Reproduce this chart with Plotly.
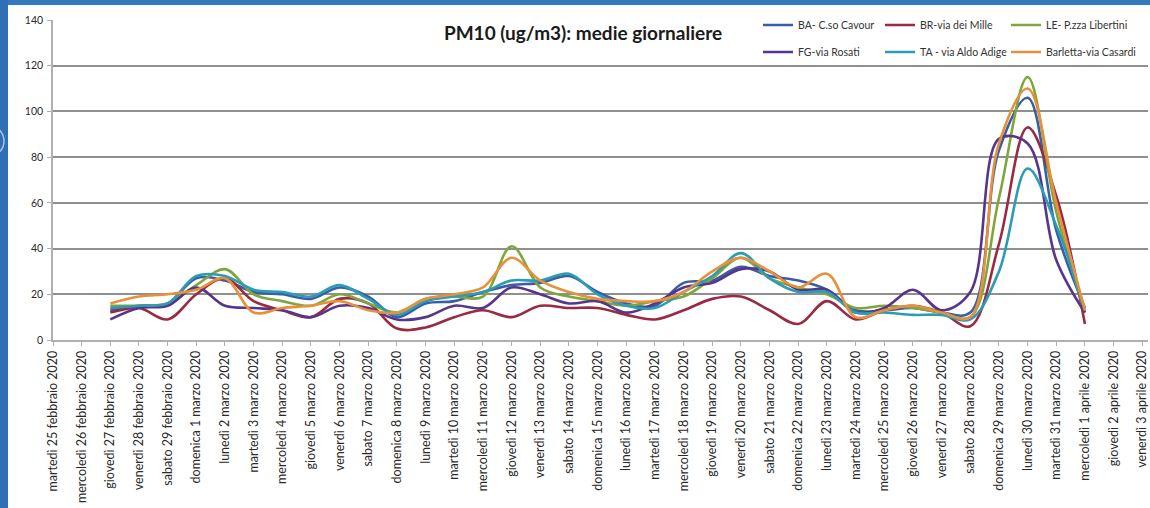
import plotly.graph_objects as go

dates = [
    "martedì 25 febbraio 2020", "mercoledì 26 febbraio 2020", "giovedì 27 febbraio 2020",
    "venerdì 28 febbraio 2020", "sabato 29 febbraio 2020", "domenica 1 marzo 2020",
    "lunedì 2 marzo 2020", "martedì 3 marzo 2020", "mercoledì 4 marzo 2020",
    "giovedì 5 marzo 2020", "venerdì 6 marzo 2020", "sabato 7 marzo 2020",
    "domenica 8 marzo 2020", "lunedì 9 marzo 2020", "martedì 10 marzo 2020",
    "mercoledì 11 marzo 2020", "giovedì 12 marzo 2020", "venerdì 13 marzo 2020",
    "sabato 14 marzo 2020", "domenica 15 marzo 2020", "lunedì 16 marzo 2020",
    "martedì 17 marzo 2020", "mercoledì 18 marzo 2020", "giovedì 19 marzo 2020",
    "venerdì 20 marzo 2020", "sabato 21 marzo 2020", "domenica 22 marzo 2020",
    "lunedì 23 marzo 2020", "martedì 24 marzo 2020", "mercoledì 25 marzo 2020",
    "giovedì 26 marzo 2020", "venerdì 27 marzo 2020", "sabato 28 marzo 2020",
    "domenica 29 marzo 2020", "lunedì 30 marzo 2020", "martedì 31 marzo 2020",
    "mercoledì 1 aprile 2020", "giovedì 2 aprile 2020", "venerdì 3 aprile 2020",
]

# values from 27 febbraio to 1 aprile (no data on the first two and last two days)
ba_cavour = [13, 15, 16, 27, 26, 21, 20, 18, 23, 19, 10, 16, 17, 21, 24, 25, 28, 21, 16, 15,
             25, 26, 32, 28, 26, 22, 13, 13, 14, 12, 12, 83, 106, 48, 14]
br_mille = [12, 14, 9, 20, 27, 17, 13, 10, 18, 16, 5, 5.5, 10, 13, 10, 15, 14, 14, 11, 9,
            13, 18, 19, 13, 7, 17, 9, 13, 15, 12, 6, 42, 93, 63, 7]
le_libertini = [15, 15, 16, 24, 31, 20, 17, 15, 20, 16, 12, 18, 19, 19, 41, 23, 19, 17, 15, 17,
                19, 27, 36, 27, 23, 20, 14, 15, 14, 12, 10, 62, 115, 56, 12]
fg_rosati = [9, 14, 15, 23, 15, 14, 13, 10, 15, 14, 9, 10, 15, 14, 23, 20, 16, 17, 12, 16,
             23, 25, 31, 30, 22, 22, 12, 14, 22, 13, 21, 88, 86, 35, 12]
ta_adige = [14, 15, 16, 28, 28, 22, 21, 19, 24, 18, 11, 17, 19, 21, 26, 26, 29, 20, 15, 14,
            21, 28, 38, 27, 21, 21, 12, 12, 11, 11, 9, 30, 75, 50, 13]
barletta = [16, 19, 20, 22, 27, 12, 14, 15, 17, 13, 12, 18, 20, 23, 36, 26, 21, 18, 17, 17,
            21, 30, 36, 30, 23, 29, 10, 13, 15, 12, 10, 86, 110, 60, 13]

names = ["BA- C.so Cavour", "BR-via dei Mille", "LE- P.zza Libertini",
         "FG-via Rosati", "TA - via Aldo Adige", "Barletta-via Casardi"]
series = [ba_cavour, br_mille, le_libertini, fg_rosati, ta_adige, barletta]
colors = ["#3a5ea6", "#9a2a42", "#7fa63c", "#56358a", "#2b9cb6", "#e8903a"]

y_ticks = [0, 20, 40, 60, 80, 100, 120, 140]

W, H = 1150, 508
ML, MR, MT, MB = 53, 2, 20, 168
PW, PH = W - ML - MR, H - MT - MB


def px(x):
    return (x - ML) / PW


def py(y):
    return (H - MB - y) / PH


fig = go.Figure()

# legend positions: (legend-left px, row centre px)
leg_pos = [(758, 25), (880, 25), (1006, 25), (758, 52), (880, 52), (1006, 52)]

for i, (name, vals, col) in enumerate(zip(names, series, colors)):
    y = [None, None] + vals + [None, None]
    lg = "legend" if i == 0 else f"legend{i+1}"
    fig.add_trace(go.Scatter(
        x=dates, y=y, name=name, mode="lines",
        line=dict(color=col, width=2.6, shape="spline", smoothing=1.0),
        legend=lg, connectgaps=False,
    ))

legend_common = dict(
    orientation="v", bgcolor="rgba(0,0,0,0)", borderwidth=0,
    font=dict(family="Lato, Liberation Sans, sans-serif", size=10.5, color="#333333"),
    xanchor="left", yanchor="middle", xref="paper", yref="paper",
    itemwidth=30, tracegroupgap=0,
)
legends = {}
for i, (lx, ly) in enumerate(leg_pos):
    key = "legend" if i == 0 else f"legend{i+1}"
    legends[key] = dict(legend_common, x=px(lx), y=py(ly))

shapes = [
    # white boxes behind title and legend (hide gridlines)
    dict(type="rect", xref="paper", yref="paper", x0=px(433), x1=px(731), y0=py(45), y1=py(8),
         fillcolor="white", line=dict(width=0), layer="between"),
    dict(type="rect", xref="paper", yref="paper", x0=px(778), x1=px(1150), y0=py(69), y1=py(8),
         fillcolor="white", line=dict(width=0), layer="between"),
    # slide background strips
    dict(type="rect", xref="paper", yref="paper", x0=px(0), x1=px(1150), y0=py(5), y1=py(0),
         fillcolor="#3478bd", line=dict(width=0), layer="below"),
    dict(type="rect", xref="paper", yref="paper", x0=px(0), x1=px(8), y0=py(508), y1=py(0),
         fillcolor="#2f6fb6", line=dict(width=0), layer="below"),
    dict(type="circle", xref="paper", yref="paper", x0=px(-24), x1=px(4), y0=py(156), y1=py(126),
         fillcolor="rgba(0,0,0,0)", line=dict(width=1.5, color="rgba(255,255,255,0.6)"), layer="above"),
]

fig.update_layout(
    width=W, height=H,
    margin=dict(l=ML, r=MR, t=MT, b=MB, pad=0),
    paper_bgcolor="white", plot_bgcolor="white",
    title=dict(text="<b>PM10 (ug/m3): medie giornaliere</b>", x=px(583), xref="paper",
               xanchor="center", y=1 - 33 / H, yref="container", yanchor="middle",
               font=dict(family="Lato, Liberation Sans, sans-serif", size=19, color="#1a1a1a")),
    font=dict(family="Lato, Liberation Sans, sans-serif", color="#333333"),
    shapes=shapes,
    showlegend=True,
    **legends,
)

fig.update_xaxes(
    type="category", categoryorder="array", categoryarray=dates,
    range=[0, 38.2],
    tickangle=-90, tickfont=dict(size=12.5, color="#2a2a2a"),
    showgrid=False, showline=True, linecolor="#b0b0b0", linewidth=1.6,
    ticks="outside", ticklen=4, tickcolor="#b0b0b0", zeroline=False,
)
fig.update_yaxes(
    range=[0, 140], tickvals=y_ticks, ticktext=[str(v) for v in y_ticks],
    tickfont=dict(size=10.5, color="#2a2a2a"),
    ticklabelstandoff=2,
    showgrid=True, gridcolor="#8f8f8f", gridwidth=1.5,
    showline=True, linecolor="#b0b0b0", linewidth=1.6,
    ticks="outside", ticklen=4, tickcolor="#b0b0b0", zeroline=False,
)

fig.write_html("out.html", config={"displayModeBar": False},
               post_script="document.body.style.margin='0';")
